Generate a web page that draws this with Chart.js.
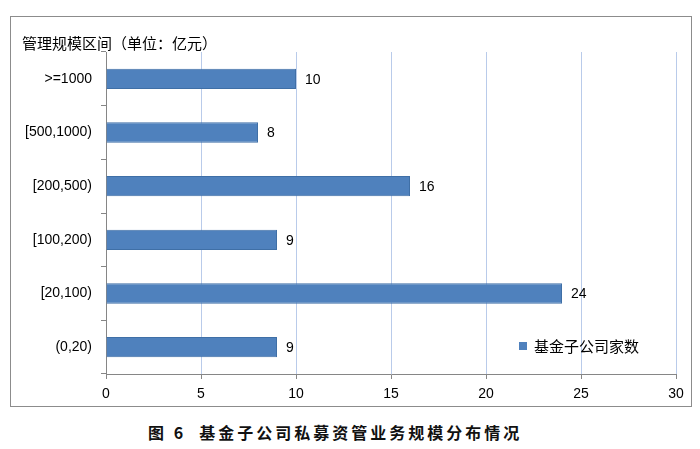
<!DOCTYPE html>
<html>
<head>
<meta charset="utf-8">
<script src="https://cdn.jsdelivr.net/npm/chart.js@4"></script>
<style>
    body { margin: 0; background: #fff; width: 700px; height: 449px; position: relative; overflow: hidden; }
    #box { position: absolute; left: 10px; top: 16px; width: 680px; height: 389px; border: 1px solid #8c8c8c; }
    #caption {
        position: absolute; left: 148px; top: 420px;
        font-family: "Noto Sans CJK SC", sans-serif; font-weight: bold; font-size: 16px;
        letter-spacing: 3px; color: #111; white-space: pre; line-height: 24px;
    }
</style>
</head>
<body>
<div id="box"><canvas id="scale-chart"></canvas></div>
<div id="caption">图 6  基金子公司私募资管业务规模分布情况</div>
<script>
// Categories (top to bottom) and values
const ranges = ['>=1000', '[500,1000)', '[200,500)', '[100,200)', '[20,100)', '(0,20)'];
const companyCounts = [10, 8, 16, 9, 24, 9];
const seriesName = '基金子公司家数';
const axisTitle = '管理规模区间（单位：亿元）';
const xTicks = [0, 5, 10, 15, 20, 25, 30];

const latinFont = { family: '"Liberation Sans", Arial, sans-serif', size: 14 };
const cjkFamily = '"Noto Sans CJK SC", sans-serif';

// Value labels at end of each bar
const valueLabels = {
    id: 'valueLabels',
    afterDatasetsDraw(chart) {
        const ctx = chart.ctx;
        const meta = chart.getDatasetMeta(0);
        ctx.save();
        ctx.font = '14px ' + latinFont.family;
        ctx.fillStyle = '#000';
        ctx.textAlign = 'left';
        ctx.textBaseline = 'middle';
        meta.data.forEach((bar, i) => {
            ctx.fillText(chart.data.datasets[0].data[i], bar.x + 9, bar.y + 1);
        });
        ctx.restore();
    }
};

// Axis title at top-left and legend inside plot area
const extras = {
    id: 'extras',
    afterDraw(chart) {
        const ctx = chart.ctx;
        const ds = chart.data.datasets[0];
        ctx.save();
        ctx.fillStyle = '#000';
        ctx.textBaseline = 'middle';
        ctx.font = '15px ' + cjkFamily;
        ctx.fillText(axisTitle, 11, 26);

        ctx.fillStyle = ds.backgroundColor;
        ctx.fillRect(508, 325, 8, 8);
        ctx.fillStyle = '#000';
        ctx.font = '15px ' + cjkFamily;
        ctx.fillText(ds.label, 523, 329);
        ctx.restore();
    }
};

new Chart(document.getElementById('scale-chart'), {
    type: 'bar',
    data: {
        labels: ranges,
        datasets: [{
            label: seriesName,
            data: companyCounts,
            backgroundColor: '#4f81bd',
            borderColor: '#3f6fa6',
            borderWidth: 1,
            barPercentage: 0.5,
            categoryPercentage: 0.76
        }]
    },
    options: {
        indexAxis: 'y',
        responsive: true,
        maintainAspectRatio: false,
        animation: false,
        layout: { padding: { top: 35, right: 15, bottom: 0, left: 0 } },
        plugins: {
            legend: { display: false },
            tooltip: { enabled: false }
        },
        scales: {
            x: {
                min: 0,
                max: 30,
                afterBuildTicks: (scale) => { scale.ticks = xTicks.map(v => ({ value: v })); },
                afterFit: (scale) => { scale.height = 32; },
                grid: {
                    color: '#b9cbea',
                    tickColor: '#868686',
                    tickLength: 5,
                    lineWidth: 1
                },
                border: { display: true, color: '#868686' },
                ticks: { font: latinFont, color: '#000', padding: 7 }
            },
            y: {
                afterFit: (scale) => { scale.width = 95; },
                grid: {
                    offset: true,
                    drawOnChartArea: false,
                    drawTicks: true,
                    tickLength: 5,
                    color: '#868686'
                },
                border: { display: true, color: '#868686' },
                ticks: { font: latinFont, color: '#000', padding: 9 }
            }
        }
    },
    plugins: [valueLabels, extras]
});
</script>
</body>
</html>
